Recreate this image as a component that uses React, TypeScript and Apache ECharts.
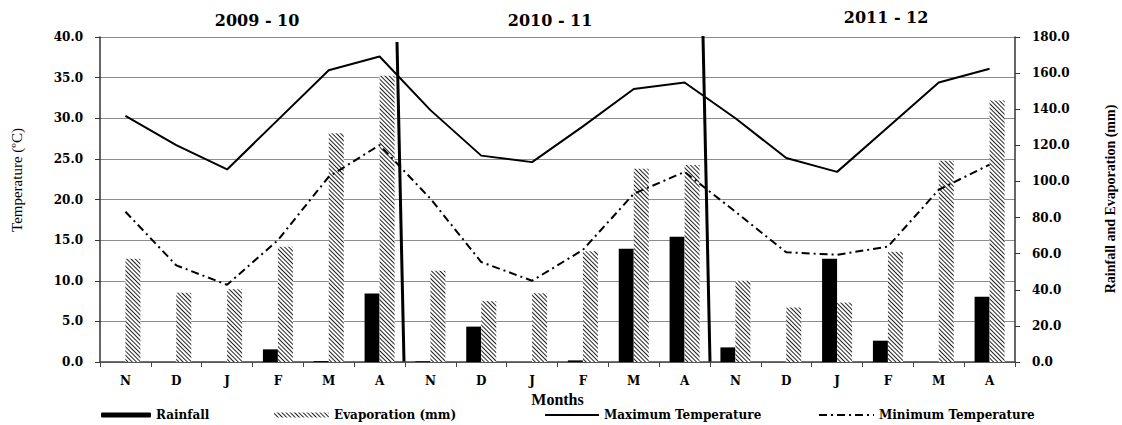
import React, { useEffect, useRef } from 'react';
import * as echarts from 'echarts';

const months = ['N', 'D', 'J', 'F', 'M', 'A', 'N', 'D', 'J', 'F', 'M', 'A', 'N', 'D', 'J', 'F', 'M', 'A'];
const seasons = ['2009 - 10', '2010 - 11', '2011 - 12'];
const rainfall = [0, 0, 0, 7.0, 0.5, 37.9, 0.4, 19.6, 0, 0.9, 62.7, 69.4, 8.1, 0, 57.2, 11.8, 0, 36.1];
const evaporation = [57.2, 38.3, 40.3, 63.8, 126.7, 158.5, 50.5, 33.7, 38.1, 61.4, 107.1, 109.1, 45.0, 30.2, 32.9, 61.0, 111.4, 144.8];
const maxTemp = [30.3, 26.7, 23.7, 29.8, 35.9, 37.6, 31.0, 25.4, 24.6, 29.0, 33.6, 34.4, 30.0, 25.1, 23.4, 28.9, 34.4, 36.1];
const minTemp = [18.5, 11.9, 9.5, 15.0, 22.8, 26.7, 20.1, 12.3, 10.0, 13.8, 20.7, 23.4, 18.5, 13.5, 13.2, 14.2, 21.2, 24.3];
const seriesNames = ['Rainfall', 'Evaporation (mm)', 'Maximum Temperature', 'Minimum Temperature'];

const NUM_FONT = 'DejaVu Serif';
const TIMES = 'Liberation Serif';

export default function App() {
  const ref = useRef<HTMLDivElement>(null);
  useEffect(() => {
    if (!ref.current) return;
    const chart = echarts.init(ref.current, null, { renderer: 'svg' });
    const hatch = {
      symbol: 'rect',
      symbolSize: 1,
      color: '#222',
      backgroundColor: '#fff',
      dashArrayX: [1, 0],
      dashArrayY: [1, 2],
      rotation: Math.PI / 4,
    };
    const legendText = { fontFamily: NUM_FONT, fontWeight: 'bold', fontSize: 12, color: '#000' };
    const legendPos = [101, 274, 544, 818];
    const legendW = [50, 55, 54, 55];
    const option: any = {
      animation: false,
      backgroundColor: '#fff',
      grid: { left: 100, right: 107, top: 37, bottom: 63 },
      xAxis: {
        type: 'category',
        data: months,
        boundaryGap: true,
        axisLine: { lineStyle: { color: '#444', width: 1.5 } },
        axisTick: { show: true, length: 5, lineStyle: { color: '#444' } },
        axisLabel: { interval: 0, margin: 13, fontFamily: NUM_FONT, fontWeight: 'bold', fontSize: 12, color: '#000' },
        name: 'Months',
        nameLocation: 'middle',
        nameGap: 28,
        nameTextStyle: { fontFamily: TIMES, fontWeight: 'bold', fontSize: 16, color: '#000' },
      },
      yAxis: [
        {
          type: 'value', min: 0, max: 40, interval: 5, position: 'left',
          axisLine: { show: true, lineStyle: { color: '#333', width: 1.5 } },
          axisTick: { show: true, length: 5, lineStyle: { color: '#333' } },
          axisLabel: { formatter: (v: number) => v.toFixed(1), margin: 17, fontFamily: NUM_FONT, fontWeight: 'bold', fontSize: 12, color: '#000' },
          splitLine: { show: true, lineStyle: { color: '#8c8c8c', width: 1 } },
        },
        {
          type: 'value', min: 0, max: 180, interval: 20, position: 'right',
          axisLine: { show: true, lineStyle: { color: '#333', width: 1.5 } },
          axisTick: { show: true, length: 5, lineStyle: { color: '#333' } },
          axisLabel: { formatter: (v: number) => v.toFixed(1), margin: 17, fontFamily: NUM_FONT, fontWeight: 'bold', fontSize: 12, color: '#000' },
          splitLine: { show: false },
        },
      ],
      legend: seriesNames.map((n, i) => ({
        data: [n],
        left: legendPos[i],
        top: 409,
        padding: 0,
        itemWidth: legendW[i],
        itemHeight: 5,
        textStyle: legendText,
        selectedMode: false,
        ...(i >= 2 ? { itemStyle: { opacity: 0 } } : {}),
      })),
      series: [
        { name: seriesNames[0], type: 'bar', yAxisIndex: 1, data: rainfall, barWidth: 15, barGap: '0%', itemStyle: { color: '#000' } },
        { name: seriesNames[1], type: 'bar', yAxisIndex: 1, data: evaporation, barWidth: 15, barGap: '0%', itemStyle: { color: '#fff', decal: hatch } },
        { name: seriesNames[2], type: 'line', yAxisIndex: 0, data: maxTemp, symbol: 'none', itemStyle: { color: '#000' }, lineStyle: { color: '#000', width: 2 } },
        { name: seriesNames[3], type: 'line', yAxisIndex: 0, data: minTemp, symbol: 'none', itemStyle: { color: '#000' }, lineStyle: { color: '#000', width: 2, type: [8, 4, 2, 4] } },
      ],
    };
    chart.setOption(option);

    const px = (i: number) => chart.convertToPixel({ xAxisIndex: 0 }, i) as number;
    const py = (v: number) => chart.convertToPixel({ yAxisIndex: 0 }, v) as number;
    const b1 = (px(5) + px(6)) / 2;
    const b2 = (px(11) + px(12)) / 2;
    const yBot = py(0);
    const yTop = py(40);
    const txt = (text: string, x: number, y: number, font: any, rotation = 0) => ({
      type: 'text', x, y, rotation,
      style: { text, ...font, fill: '#000', textAlign: 'center', align: 'center', textVerticalAlign: 'middle', verticalAlign: 'middle' },
    });
    const seasonFont = { fontFamily: NUM_FONT, fontWeight: 'bold', fontSize: 16 };
    chart.setOption({
      graphic: [
        { type: 'line', shape: { x1: b1 - 8, y1: yTop + 5, x2: b1 - 1, y2: yBot }, style: { stroke: '#000', lineWidth: 3 } },
        { type: 'line', shape: { x1: b2 - 7, y1: yTop - 1, x2: b2, y2: yBot }, style: { stroke: '#000', lineWidth: 3 } },
        txt(seasons[0], px(2) + 30, 20, seasonFont),
        txt(seasons[1], px(8) + 18, 20, seasonFont),
        txt(seasons[2], px(14) + 49, 17, seasonFont),
        txt('Temperature (ºC)', 17, 180, { fontFamily: TIMES, fontSize: 15 }, Math.PI / 2),
        txt('Rainfall and Evaporation (mm)', 1110, 199, { fontFamily: TIMES, fontWeight: 'bold', fontSize: 14 }, Math.PI / 2),
      ],
    });
    return () => chart.dispose();
  }, []);
  return <div ref={ref} style={{ position: 'fixed', left: 0, top: 0, width: 1122, height: 425 }} />;
}
